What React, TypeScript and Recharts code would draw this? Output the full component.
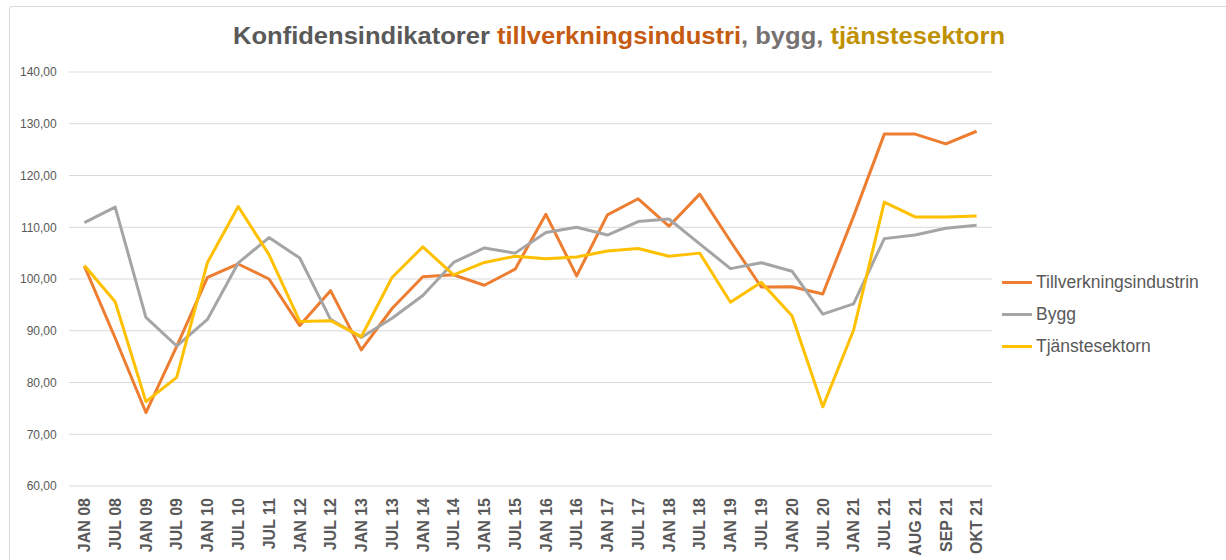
import React from "react";
import { LineChart, Line, XAxis, YAxis, CartesianGrid, Legend } from "recharts";

const categories = [
  "JAN 08", "JUL 08", "JAN 09", "JUL 09", "JAN 10", "JUL 10", "JUL 11", "JAN 12", "JUL 12", "JAN 13",
  "JUL 13", "JAN 14", "JUL 14", "JAN 15", "JUL 15", "JAN 16", "JUL 16", "JAN 17", "JUL 17", "JAN 18",
  "JUL 18", "JAN 19", "JUL 19", "JAN 20", "JUL 20", "JAN 21", "JUL 21", "AUG 21", "SEP 21", "OKT 21",
];

const tillverkning = [
  102.5, 88.6, 74.2, 87.0, 100.3, 102.9, 100.0, 91.0, 97.75, 86.3,
  94.3, 100.45, 100.8, 98.8, 101.9, 112.5, 100.6, 112.4, 115.5, 110.2,
  116.4, 107.3, 98.45, 98.5, 97.1, 112.1, 128.0, 128.0, 126.1, 128.55,
];

const bygg = [
  110.9, 113.9, 92.6, 87.05, 92.2, 103.1, 108.0, 104.05, 92.2, 88.7,
  92.4, 96.8, 103.2, 106.0, 105.0, 109.0, 110.0, 108.5, 111.1, 111.6,
  106.8, 102.0, 103.15, 101.5, 93.2, 95.2, 107.8, 108.5, 109.8, 110.4,
];

const tjanste = [
  102.6, 95.6, 76.3, 81.0, 103.2, 114.0, 104.7, 91.8, 91.95, 88.85,
  100.3, 106.2, 100.8, 103.2, 104.4, 103.9, 104.25, 105.4, 105.9, 104.4,
  105.0, 95.5, 99.35, 92.9, 75.3, 90.1, 114.85, 112.0, 112.0, 112.15,
];

const yTicks = [60, 70, 80, 90, 100, 110, 120, 130, 140];

const seriesNames = ["Tillverkningsindustrin", "Bygg", "Tjänstesektorn"];
const seriesColors = ["#ED7D31", "#A5A5A5", "#FFC000"];

const data = categories.map((c, i) => ({
  cat: c,
  t: tillverkning[i],
  b: bygg[i],
  s: tjanste[i],
}));

const FONT = "'Liberation Sans', Arial, sans-serif";
const TXT = "#595959";

const XTick = (props: any) => {
  const { x, y, payload } = props;
  return (
    <text
      x={x}
      y={y}
      transform={`rotate(-90, ${x}, ${y})`}
      textAnchor="end"
      dy="0.36em"
      fill={TXT}
      fontFamily={FONT}
      fontWeight="bold"
      fontSize={16}
    >
      {payload.value}
    </text>
  );
};

const fmt = (v: number) => v.toFixed(2).replace(".", ",");

const LegendContent = () => (
  <div style={{ fontFamily: FONT, fontSize: 17.5, color: TXT }}>
    {seriesNames.map((n, i) => (
      <div key={n} style={{ display: "flex", alignItems: "center", height: 32.2 }}>
        <div style={{ width: 30, height: 3, background: seriesColors[i], marginRight: 4 }} />
        <span style={{ whiteSpace: "nowrap" }}>{n}</span>
      </div>
    ))}
  </div>
);

export default function App() {
  return (
    <div
      style={{
        position: "fixed",
        left: 0,
        top: 0,
        width: 1226,
        height: 560,
        overflow: "hidden",
        background: "#fff",
      }}
    >
      <div
        style={{
          position: "absolute",
          left: 9,
          top: 6,
          width: 1240,
          height: 600,
          border: "1px solid #D9D9D9",
          borderRadius: 3,
          boxSizing: "border-box",
        }}
      />
      <div style={{ position: "absolute", left: 0, top: 0 }}>
        <LineChart
          width={1226}
          height={560}
          data={data}
          margin={{ top: 72, right: 234, bottom: 0, left: 0 }}
        >
          <CartesianGrid vertical={false} stroke="#D9D9D9" strokeWidth={1.2} />
          <XAxis
            dataKey="cat"
            interval={0}
            height={74}
            tick={<XTick />}
            tickLine={false}
            axisLine={false}
            tickSize={0}
            tickMargin={12}
            padding={{ left: 15.4, right: 15.4 }}
          />
          <YAxis
            width={69}
            domain={[60, 140]}
            ticks={yTicks}
            tickFormatter={fmt}
            tickLine={false}
            axisLine={false}
            tickSize={0}
            tickMargin={12.3}
            tick={{ fill: TXT, fontSize: 12, fontFamily: FONT }}
          />
          <Legend
            layout="vertical"
            align="center"
            verticalAlign="middle"
            content={<LegendContent />}
            wrapperStyle={{ left: 1002, top: 266, width: 224 }}
          />
          <Line
            type="linear"
            dataKey="t"
            name={seriesNames[0]}
            stroke={seriesColors[0]}
            strokeWidth={3}
            dot={false}
            activeDot={false}
            strokeLinejoin="round"
            isAnimationActive={false}
          />
          <Line
            type="linear"
            dataKey="b"
            name={seriesNames[1]}
            stroke={seriesColors[1]}
            strokeWidth={3}
            dot={false}
            activeDot={false}
            strokeLinejoin="round"
            isAnimationActive={false}
          />
          <Line
            type="linear"
            dataKey="s"
            name={seriesNames[2]}
            stroke={seriesColors[2]}
            strokeWidth={3}
            dot={false}
            activeDot={false}
            strokeLinejoin="round"
            isAnimationActive={false}
          />
        </LineChart>
      </div>
      <svg
        width={1226}
        height={60}
        style={{ position: "absolute", left: 0, top: 0, pointerEvents: "none" }}
      >
        <text
          x={233}
          y={44}
          fontFamily={FONT}
          fontWeight="bold"
          fontSize={23.5}
          textLength={772}
          lengthAdjust="spacingAndGlyphs"
        >
          <tspan fill="#595959">Konfidensindikatorer </tspan>
          <tspan fill="#C55A11">tillverkningsindustri</tspan>
          <tspan fill="#767171">, bygg, </tspan>
          <tspan fill="#BF9000">tjänstesektorn</tspan>
        </text>
      </svg>
    </div>
  );
}
